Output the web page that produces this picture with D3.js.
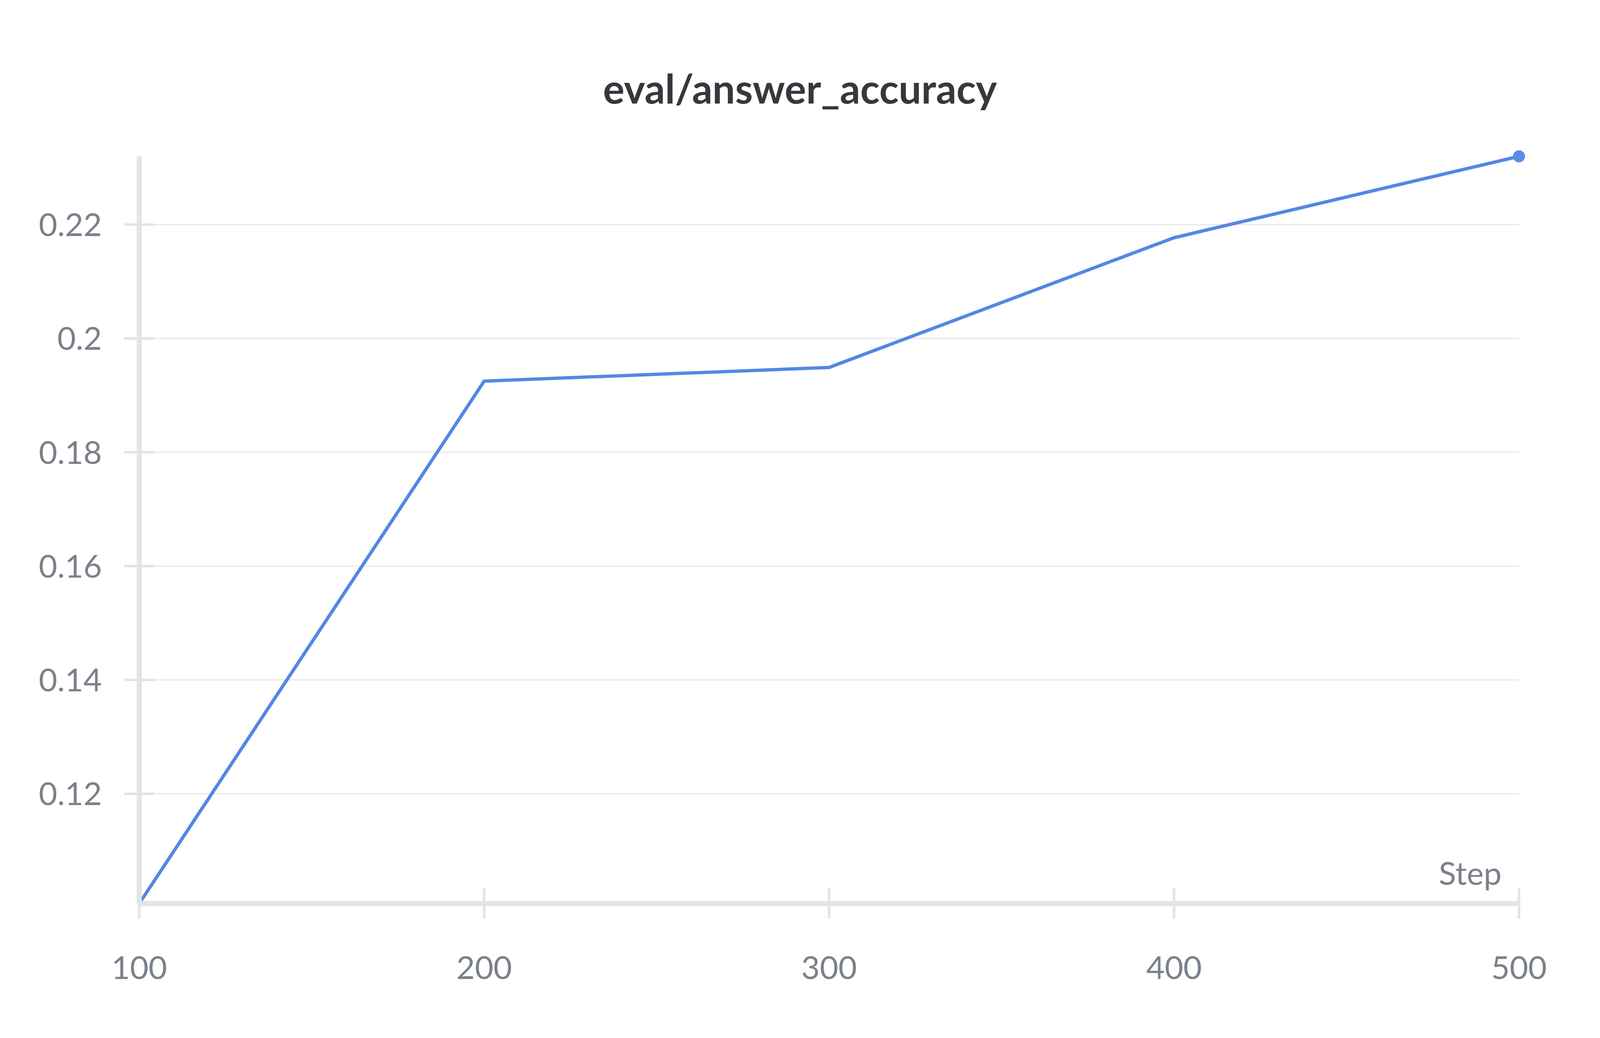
<html>
<head>
  <meta charset="utf-8">
  <style>
    html, body { margin: 0; padding: 0; background: #fff; overflow: hidden; }
    svg { display: block; }
    text { font-family: Lato, "Noto Sans", sans-serif; }
  </style>
</head>
<body>
<script src="https://d3js.org/d3.v7.min.js"></script>
<script>
  // data
  var steps = [100, 200, 300, 400, 500];
  var accuracy = [0.1007, 0.1925, 0.1949, 0.2177, 0.2320];
  var stepTicks = [100, 200, 300, 400, 500];
  var accTicks = [0.12, 0.14, 0.16, 0.18, 0.2, 0.22];
  var title = "eval/answer_accuracy";
  var xLabel = "Step";

  // layout is measured on a 5056x2656 chart and stretched to the window
  var width = window.innerWidth || document.documentElement.clientWidth;
  var height = window.innerHeight || document.documentElement.clientHeight;
  var sx = width / 5056, sy = height / 2656, k = Math.min(sx, sy);

  var plotL = 440 * sx, plotR = 4800 * sx, plotT = 400 * sy, plotB = 2312 * sy;
  var axisColor = "#e4e4e7", gridColor = "#e9e9ec", labelColor = "#7b818b";
  var lineColor = "#5387e4";
  var fontSize = 101 * k, tickLen = 48 * k;

  var svg = d3.select("body").append("svg")
      .attr("width", width)
      .attr("height", height);

  var x = d3.scaleLinear().domain(d3.extent(steps)).range([plotL, plotR]);
  var y = d3.scaleLinear().domain(d3.extent(accuracy)).range([plotB, plotT]);

  var pts = steps.map((s, i) => ({step: s, acc: accuracy[i]}));

  // title
  svg.append("text")
      .attr("x", width / 2)
      .attr("y", 265 * sy)
      .attr("text-anchor", "middle")
      .attr("font-size", 127 * k)
      .attr("font-weight", 700)
      .attr("fill", "#35383c")
      .text(title);

  // gridlines
  svg.append("g")
    .selectAll("line")
    .data(accTicks)
    .join("line")
      .attr("x1", plotL + tickLen)
      .attr("x2", plotR)
      .attr("y1", d => y(d))
      .attr("y2", d => y(d))
      .attr("stroke", gridColor)
      .attr("stroke-width", 4 * k);

  // series line
  svg.append("path")
      .datum(pts)
      .attr("fill", "none")
      .attr("stroke", lineColor)
      .attr("stroke-width", 10.5 * k)
      .attr("stroke-linejoin", "round")
      .attr("d", d3.line().x(d => x(d.step)).y(d => y(d.acc)));

  // y axis
  var yAxis = svg.append("g");
  yAxis.append("line")
      .attr("x1", plotL).attr("x2", plotL)
      .attr("y1", plotT).attr("y2", plotB)
      .attr("stroke", axisColor)
      .attr("stroke-width", 16 * k);
  yAxis.selectAll(".tick")
    .data(accTicks)
    .join("line")
      .attr("class", "tick")
      .attr("x1", plotL - tickLen).attr("x2", plotL + tickLen)
      .attr("y1", d => y(d)).attr("y2", d => y(d))
      .attr("stroke", axisColor)
      .attr("stroke-width", 8 * k);
  yAxis.selectAll("text")
    .data(accTicks)
    .join("text")
      .attr("x", 322 * sx)
      .attr("y", d => y(d))
      .attr("dy", "0.36em")
      .attr("text-anchor", "end")
      .attr("font-size", fontSize)
      .attr("fill", labelColor)
      .text(d3.format("~g"));

  // x axis
  var xAxis = svg.append("g");
  xAxis.append("line")
      .attr("x1", plotL).attr("x2", plotR)
      .attr("y1", plotB).attr("y2", plotB)
      .attr("stroke", axisColor)
      .attr("stroke-width", 16 * k);
  xAxis.selectAll(".tick")
    .data(stepTicks)
    .join("line")
      .attr("class", "tick")
      .attr("x1", d => x(d)).attr("x2", d => x(d))
      .attr("y1", plotB - tickLen).attr("y2", plotB + tickLen)
      .attr("stroke", axisColor)
      .attr("stroke-width", 8 * k);
  xAxis.selectAll("text")
    .data(stepTicks)
    .join("text")
      .attr("x", d => x(d))
      .attr("y", 2505 * sy)
      .attr("text-anchor", "middle")
      .attr("font-size", fontSize)
      .attr("fill", labelColor)
      .text(d => d);
  xAxis.append("text")
      .attr("x", plotR - 55 * sx)
      .attr("y", 2264 * sy)
      .attr("text-anchor", "end")
      .attr("font-size", fontSize)
      .attr("fill", labelColor)
      .text(xLabel);

  // marker on the last point
  var last = pts[pts.length - 1];
  svg.append("circle")
      .attr("cx", x(last.step))
      .attr("cy", y(last.acc))
      .attr("r", 19 * k)
      .attr("fill", "#5b8de6");
</script>
</body>
</html>
